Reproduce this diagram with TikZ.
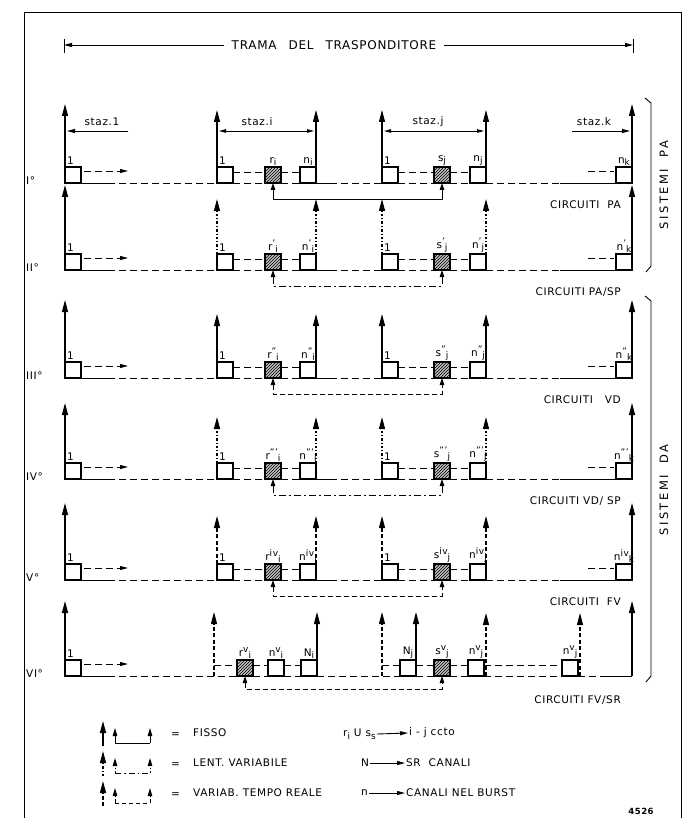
\documentclass[tikz,border=0pt]{standalone}
\usepackage{fontspec}
\setmainfont{DejaVu Sans}[LetterSpace=6]
\newfontfamily\widefont{DejaVu Sans}[LetterSpace=22]
\usetikzlibrary{arrows.meta,patterns,calc}
\newcommand\slab[3]{#1\raisebox{0.6ex}{\fontsize{9}{9}\selectfont #2}\raisebox{-0.45ex}{\fontsize{9}{9}\selectfont #3}}
\tikzset{
  ln/.style={line width=0.9pt},
  dsh/.style={ln, dash pattern=on 7pt off 4pt},
  dshdot/.style={ln, dash pattern=on 6pt off 3pt on 1.5pt off 3pt},
  cell/.style={draw, line width=1.1pt, minimum size=16pt, inner sep=0pt, outer sep=0pt, anchor=south west},
  hcell/.style={cell, line width=1.3pt, fill=gray!50, postaction={pattern=north east lines}},
  fix/.style={line width=1.2pt, -{Triangle[length=12pt,width=6pt]}},
  lent/.style={fix, dash pattern=on 2.5pt off 2pt on 1pt off 2pt},
  treal/.style={fix, dash pattern=on 4pt off 2.5pt},
  sfix/.style={line width=1pt, -{Triangle[length=8pt,width=4.5pt]}},
  slent/.style={sfix, dash pattern=on 2.5pt off 2pt on 1pt off 2pt},
  sreal/.style={sfix, dash pattern=on 4pt off 2.5pt},
  cfix/.style={ln, {Triangle[length=7pt,width=4.5pt]}-{Triangle[length=7pt,width=4.5pt]}},
  clent/.style={cfix, dash pattern=on 7pt off 3pt on 2pt off 3pt},
  creal/.style={cfix, dash pattern=on 5pt off 3pt},
  sarr/.style={ln, -{Triangle[length=8pt,width=4pt]}},
  dsarr/.style={ln, {Triangle[length=7pt,width=3.5pt]}-{Triangle[length=7pt,width=3.5pt]}},
  darr/.style={dsh, -{Triangle[length=8pt,width=4pt]}},
  lab/.style={font=\fontsize{10.5}{12}\selectfont, inner sep=1pt},
}
% #1 id, #2 baseline, #3 row label, #4 sup, #5 station arrow, #6 connector, #7 ext tip, #8 station tip, #9 circuit
\newcommand\strow[9]{%
 \node[cell] (#1b1) at (65,#2) {};
 \node[cell] (#1i1) at (217,#2) {};
 \node[hcell] (#1ri) at (265,#2) {};
 \node[cell] (#1ni) at (300,#2) {};
 \node[cell] (#1j1) at (382,#2) {};
 \node[hcell] (#1sj) at (434,#2) {};
 \node[cell] (#1nj) at (470,#2) {};
 \node[cell] (#1nk) at (616,#2) {};
 \draw[ln] (#1b1.south east) -- ++(27,0) coordinate (#1p1);
 \draw[dsh] (#1p1) -- (#1i1.south west);
 \draw[dsh] (#1i1.south east) -- (#1ri.south west);
 \draw[dsh] (#1ri.south east) -- (#1ni.south west);
 \draw[ln] (#1ni.south east) -- ++(14,0) coordinate (#1p2);
 \draw[dsh] (#1p2) -- (#1j1.south west);
 \draw[dsh] (#1j1.south east) -- (#1sj.south west);
 \draw[dsh] (#1sj.south east) -- (#1nj.south west);
 \draw[dsh] (#1nj.south east) -- (560,#2) coordinate (#1p3);
 \draw[ln] (#1p3) -- (#1nk.south west);
 \draw[dsh] ($(#1i1.north east)+(0,5)$) -- ($(#1ri.north west)+(0,5)$);
 \draw[dsh] ($(#1ri.north east)+(0,5)$) -- ($(#1ni.north west)+(0,5)$);
 \draw[dsh] ($(#1j1.north east)+(0,5)$) -- ($(#1sj.north west)+(0,5)$);
 \draw[dsh] ($(#1sj.north east)+(0,5)$) -- ($(#1nj.north west)+(0,5)$);
 \coordinate (#1q1) at (128,#2-12);
 \draw[darr] ($(#1b1.north east)+(3,4)$) -- (#1q1);
 \coordinate (#1q2) at (588,#2-12);
 \draw[dsh] (#1q2) -- ($(#1nk.north west)+(-2,4)$);
 \coordinate (#1e1) at (65,#7);
 \coordinate (#1e2) at (632,#7);
 \draw[fix] (#1b1.south west) -- (#1e1);
 \draw[fix] (#1nk.south east) -- (#1e2);
 \draw[#5] (#1i1.north west) -- (217,#8);
 \draw[#5] (#1ni.north east) -- (316,#8);
 \draw[#5] (#1j1.north west) -- (382,#8);
 \draw[#5] (#1nj.north east) -- (486,#8);
 \node[lab, anchor=south west] (#1lab) at (25,#2+3) {#3};
 \node[lab, anchor=south west] (#1t1) at ($(#1b1.north west)+(1,-1)$) {1};
 \node[lab, anchor=south west] (#1t2) at ($(#1i1.north west)+(1,-1)$) {1};
 \node[lab, anchor=south] (#1t3) at (#1ri.north) {\slab{r}{#4}{i}};
 \node[lab, anchor=south] (#1t4) at (#1ni.north) {\slab{n}{#4}{i}};
 \node[lab, anchor=south west] (#1t5) at ($(#1j1.north west)+(1,-1)$) {1};
 \node[lab, anchor=south] (#1t6) at (#1sj.north) {\slab{s}{#4}{j}};
 \node[lab, anchor=south] (#1t7) at (#1nj.north) {\slab{n}{#4}{j}};
 \node[lab, anchor=south] (#1t8) at (#1nk.north) {\slab{n}{#4}{k}};
 \draw[#6] (#1ri.south) -- ++(0,16) -| (#1sj.south);
 \node[lab, anchor=east] (#1ct) at (622,#2+22) {#9};
}
\begin{document}
\begin{tikzpicture}[x=1pt,y=-1pt]
\useasboundingbox (0,0) rectangle (696,818);
% frame
\draw[line width=1pt] (24,818) -- (24,13) -- (681,13) -- (681,818);
% title
\node[font=\fontsize{12}{14}\selectfont, inner xsep=8pt] (title) at (334,45) {TRAMA\quad DEL\quad TRASPONDITORE};
\coordinate (tl) at (64,45);
\coordinate (tr) at (633,45);
\draw[ln] (64,39) -- (64,53);
\draw[ln] (633,39) -- (633,53);
\draw[sarr] (title.west) -- (tl);
\draw[sarr] (title.east) -- (tr);
% station labels (row I)
\node[lab] (st1) at (102,122) {staz.1};
\node[lab] (sti) at (257,122) {staz.i};
\node[lab] (stj) at (428,122) {staz.j};
\node[lab] (stk) at (594,122) {staz.k};
\coordinate (s1a) at (128,131); \coordinate (s1b) at (67,131);
\coordinate (sia) at (219,131); \coordinate (sib) at (314,131);
\coordinate (sja) at (384,131); \coordinate (sjb) at (484,131);
\coordinate (ska) at (572,131); \coordinate (skb) at (630,131);
\draw[sarr] (s1a) -- (s1b);
\draw[dsarr] (sia) -- (sib);
\draw[dsarr] (sja) -- (sjb);
\draw[sarr] (ska) -- (skb);
% rows
\strow{a}{183}{I°}{}{fix}{cfix}{104}{110}{CIRCUITI\ \ PA}
\strow{b}{270}{II°}{'}{lent}{clent}{185}{199}{CIRCUITI PA/SP}
\strow{c}{378}{III°}{''}{fix}{creal}{300}{314}{CIRCUITI\ \ \ VD}
\strow{d}{479}{IV°}{'''}{lent}{clent}{403}{417}{CIRCUITI VD/ SP}
\strow{e}{580}{V°}{iv}{treal}{creal}{503}{516}{CIRCUITI\ \ FV}
% row VI
\node[cell] (fb1) at (65,676) {};
\node[hcell] (fri) at (237,676) {};
\node[cell] (fni) at (268,676) {};
\node[cell] (fNi) at (301,676) {};
\node[cell] (fNj) at (400,676) {};
\node[hcell] (fsj) at (434,676) {};
\node[cell] (fnj) at (468,676) {};
\node[cell] (fnk) at (562,676) {};
\coordinate (fa) at (214,676);
\coordinate (fb) at (382,676);
\coordinate (fc) at (632,676);
\draw[ln] (fb1.south east) -- ++(27,0) coordinate (fp1);
\draw[dsh] (fp1) -- (fri.south west);
\draw[dsh] (fri.south east) -- (fni.south west);
\draw[dsh] (fni.south east) -- (fNi.south west);
\draw[dsh] (fNi.south east) -- (fNj.south west);
\draw[dsh] (fNj.south east) -- (fsj.south west);
\draw[dsh] (fsj.south east) -- (fnj.south west);
\draw[dsh] (fnj.south east) -- (fnk.south west);
\draw[dsh] (fnk.south east) -- (600,676) coordinate (fp2);
\draw[ln] (fp2) -- (fc);
\draw[dsh] ($(fa)+(0,-11)$) -- ($(fri.north west)+(0,5)$);
\draw[dsh] ($(fri.north east)+(0,5)$) -- ($(fni.north west)+(0,5)$);
\draw[dsh] ($(fni.north east)+(0,5)$) -- ($(fNi.north west)+(0,5)$);
\draw[dsh] ($(fb)+(0,-11)$) -- ($(fNj.north west)+(0,5)$);
\draw[dsh] ($(fNj.north east)+(0,5)$) -- ($(fsj.north west)+(0,5)$);
\draw[dsh] ($(fsj.north east)+(0,5)$) -- ($(fnj.north west)+(0,5)$);
\draw[dsh] ($(fnj.north east)+(0,5)$) -- ($(fnk.north west)+(0,5)$);
\coordinate (fq1) at (128,664);
\draw[darr] ($(fb1.north east)+(3,4)$) -- (fq1);
\draw[fix] (fb1.south west) -- (65,601);
\draw[fix] (fc) -- (632,601);
\draw[treal] (fa) -- (214,612);
\draw[fix] (fNi.north east) -- (317,612);
\draw[treal] (fb) -- (382,612);
\draw[fix] (fNj.north east) -- (416,612);
\draw[treal] ($(fnj.south east)+(2,0)$) -- (486,613);
\draw[treal] ($(fnk.south east)+(2,0)$) -- (580,613);
\node[lab, anchor=south west] (flab) at (25,679) {VI°};
\node[lab, anchor=south west] (ft1) at ($(fb1.north west)+(1,-1)$) {1};
\node[lab, anchor=south] (ft2) at (fri.north) {\slab{r}{v}{i}};
\node[lab, anchor=south] (ft3) at (fni.north) {\slab{n}{v}{i}};
\node[lab, anchor=south] (ft4) at (fNi.north) {\slab{N}{}{i}};
\node[lab, anchor=south] (ft5) at (fNj.north) {\slab{N}{}{j}};
\node[lab, anchor=south] (ft6) at (fsj.north) {\slab{s}{v}{j}};
\node[lab, anchor=south] (ft7) at (fnj.north) {\slab{n}{v}{j}};
\node[lab, anchor=south] (ft8) at (fnk.north) {\slab{n}{v}{j}};
\draw[creal] (fri.south) -- ++(0,13) -| (fsj.south);
\node[lab, anchor=east] (fct) at (622,700) {CIRCUITI FV/SR};
% right brackets
\draw[ln] (645,98) -- (651,103) -- (651,266) -- (646,272);
\draw[ln] (645,296) -- (651,301) -- (651,676) -- (646,682);
\node[font=\widefont\fontsize{11.5}{12}\selectfont, rotate=90] (spa) at (664,185) {SISTEMI\quad PA};
\node[font=\widefont\fontsize{11.5}{12}\selectfont, rotate=90] (sda) at (664,490) {SISTEMI\quad DA};
% legend
\coordinate (g1a) at (103,746); \coordinate (g1b) at (103,721);
\coordinate (g2a) at (103,776); \coordinate (g2b) at (103,751);
\coordinate (g3a) at (103,806); \coordinate (g3b) at (103,781);
\draw[fix] (g1a) -- (g1b);
\draw[lent] (g2a) -- (g2b);
\draw[treal] (g3a) -- (g3b);
\coordinate (h1a) at (115,743); \coordinate (h1b) at (150,743);
\coordinate (h2a) at (115,773); \coordinate (h2b) at (150,773);
\coordinate (h3a) at (115,803); \coordinate (h3b) at (150,803);
\draw[ln] (h1a) -- (h1b);
\draw[dshdot] (h2a) -- (h2b);
\draw[dsh, dash pattern=on 4pt off 3pt] (h3a) -- (h3b);
\draw[sfix] (h1a) -- ++(0,-15);
\draw[sfix] (h1b) -- ++(0,-15);
\draw[slent] (h2a) -- ++(0,-15);
\draw[slent] (h2b) -- ++(0,-15);
\draw[sreal] (h3a) -- ++(0,-15);
\draw[sreal] (h3b) -- ++(0,-15);
\node[lab, anchor=west] (e1) at (170,735) {=};
\node[lab, anchor=west] (e2) at (170,765) {=};
\node[lab, anchor=west] (e3) at (170,795) {=};
\node[lab, anchor=west] (k1) at (192,733) {FISSO};
\node[lab, anchor=west] (k2) at (192,763) {LENT. VARIABILE};
\node[lab, anchor=west] (k3) at (192,793) {VARIAB. TEMPO REALE};
\node[lab, anchor=west] (m1a) at (342,734) {r\raisebox{-0.45ex}{\fontsize{9}{9}\selectfont i} U s\raisebox{-0.45ex}{\fontsize{9}{9}\selectfont s}};
\node[lab, anchor=west] (m1b) at (408,733) {i - j ccto};
\node[lab, anchor=west] (m2a) at (360,763) {N};
\node[lab, anchor=west] (m2b) at (405,763) {SR\ \ CANALI};
\node[lab, anchor=west] (m3a) at (360,793) {n};
\node[lab, anchor=west] (m3b) at (405,793) {CANALI NEL BURST};
\draw[sarr] (m1a.east) -- (m1b.west);
\draw[sarr] (m2a.east) -- (m2b.west);
\draw[sarr] (m3a.east) -- (m3b.west);
\node[font=\fontsize{8.5}{9}\selectfont\bfseries] (num) at (641,811) {4526};
\end{tikzpicture}
\end{document}
